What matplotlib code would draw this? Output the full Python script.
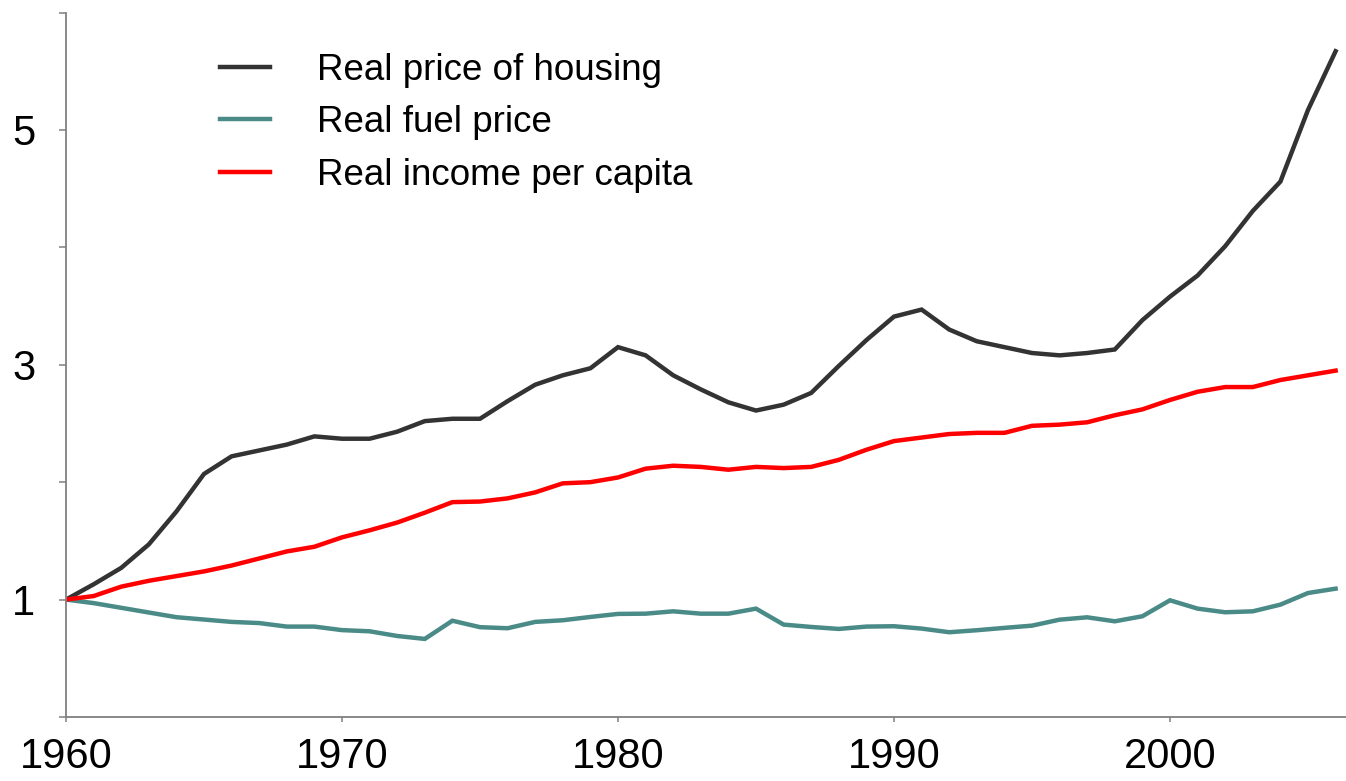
import matplotlib
matplotlib.use("Agg")
import matplotlib.pyplot as plt

# data (index, 1960 = 1)
years = list(range(1960, 2007))

housing = [1.00, 1.13, 1.27, 1.47, 1.75, 2.07, 2.22, 2.27, 2.32, 2.39,
           2.37, 2.37, 2.43, 2.52, 2.54, 2.54, 2.69, 2.83, 2.91, 2.97,
           3.15, 3.08, 2.91, 2.79, 2.68, 2.61, 2.66, 2.76, 2.99, 3.21,
           3.41, 3.47, 3.30, 3.20, 3.15, 3.10, 3.08, 3.10, 3.13, 3.38,
           3.58, 3.76, 4.01, 4.31, 4.56, 5.17, 5.67]

fuel = [1.00, 0.97, 0.93, 0.89, 0.85, 0.83, 0.81, 0.80, 0.77, 0.77,
        0.74, 0.73, 0.69, 0.665, 0.82, 0.765, 0.756, 0.81, 0.824, 0.852,
        0.878, 0.88, 0.90, 0.88, 0.88, 0.923, 0.787, 0.767, 0.75, 0.77,
        0.773, 0.753, 0.722, 0.739, 0.759, 0.778, 0.829, 0.849, 0.815, 0.858,
        0.994, 0.923, 0.892, 0.900, 0.957, 1.056, 1.093]

income = [1.00, 1.03, 1.11, 1.16, 1.20, 1.24, 1.29, 1.35, 1.41, 1.45,
          1.53, 1.59, 1.656, 1.74, 1.83, 1.835, 1.862, 1.913, 1.99, 2.00,
          2.04, 2.115, 2.14, 2.13, 2.106, 2.13, 2.12, 2.13, 2.19, 2.276,
          2.35, 2.38, 2.41, 2.42, 2.42, 2.48, 2.49, 2.51, 2.57, 2.62,
          2.70, 2.77, 2.81, 2.81, 2.87, 2.91, 2.95]

series_names = ["Real price of housing", "Real fuel price", "Real income per capita"]
series_colors = ["#333333", "#4a8b88", "#ff0000"]

x_ticks = [1960, 1970, 1980, 1990, 2000]
y_ticks = [0, 1, 2, 3, 4, 5, 6]
y_tick_labels = ["", "1", "", "3", "", "5", ""]

plt.rcParams["font.family"] = ["Liberation Sans", "DejaVu Sans"]

fig = plt.figure(figsize=(13.46, 7.81), dpi=100)
ax = fig.add_axes([66 / 1346, 64 / 781, 1280 / 1346, 704.5 / 781])

for vals, name, col in zip([housing, fuel, income], series_names, series_colors):
    ax.plot(years, vals, color=col, lw=3.2, label=name, solid_joinstyle="miter")

ax.set_xlim(1960, 1960 + 1280 / 27.6)
ax.set_ylim(0, 6)

ax.set_xticks(x_ticks)
ax.set_xticklabels([str(t) for t in x_ticks])
ax.set_yticks(y_ticks)
ax.set_yticklabels(y_tick_labels)

for s in ["top", "right"]:
    ax.spines[s].set_visible(False)
for s in ["left", "bottom"]:
    ax.spines[s].set_color("#808080")
    ax.spines[s].set_linewidth(1.3)

ax.tick_params(axis="y", direction="out", length=5, width=1.1, color="#808080",
               labelsize=30, pad=17)
ax.tick_params(axis="x", direction="out", length=3.6, width=1.1, color="#808080",
               labelsize=30, pad=11)

ax.legend(loc="upper left", bbox_to_anchor=(220 / 1346, 1 - 53 / 781),
          bbox_transform=fig.transFigure, frameon=False, fontsize=26.5,
          handlelength=1.36, handletextpad=1.28, labelspacing=0.47,
          borderpad=0, borderaxespad=0)

fig.savefig("out.png", dpi=100)
